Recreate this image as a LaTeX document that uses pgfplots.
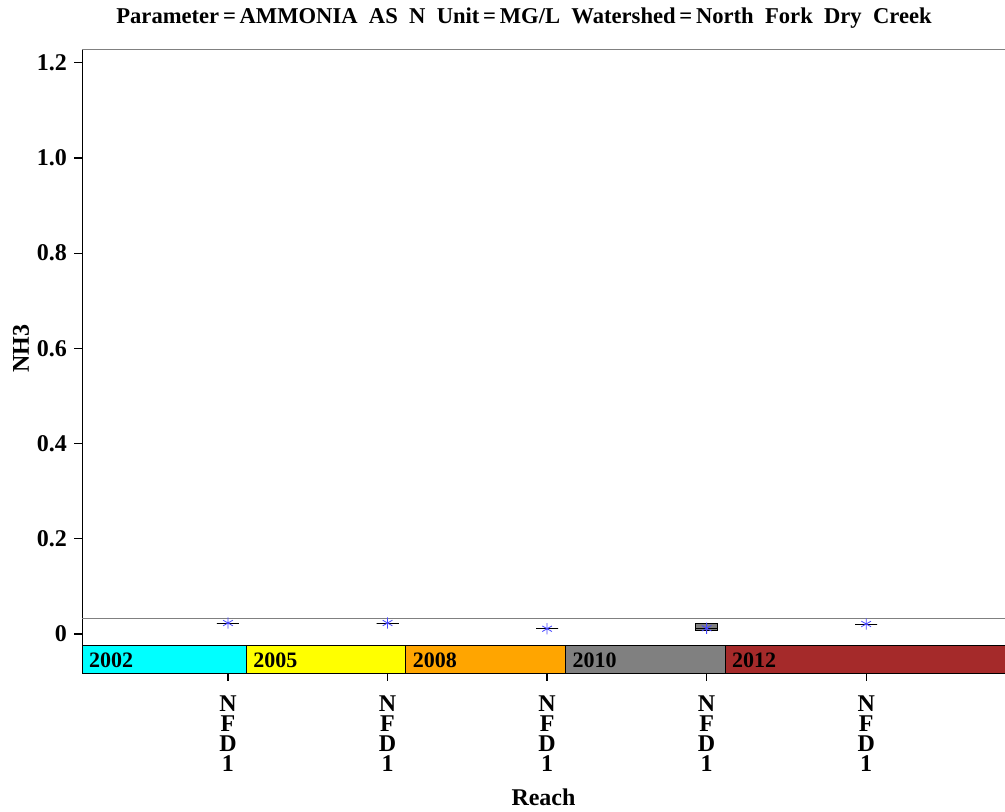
\documentclass[border=0pt]{standalone}
\usepackage{pgfplots}
\pgfplotsset{compat=1.18}
\usepgfplotslibrary{statistics}
\usepackage{fontspec}
\setmainfont{Liberation Serif}
\definecolor{meanblue}{RGB}{70,70,255}
\definecolor{band2002}{RGB}{0,255,255}
\definecolor{band2005}{RGB}{255,255,0}
\definecolor{band2008}{RGB}{255,165,0}
\definecolor{band2010}{RGB}{128,128,128}
\definecolor{band2012}{RGB}{165,42,42}
\begin{document}
\begin{tikzpicture}[x=0.5pt,y=0.5pt]
\useasboundingbox (0,0) rectangle (1005,812);
\node[font=\bfseries\fontsize{11.3}{14}\selectfont] at (524,794) {Parameter\,=\,AMMONIA\ \ AS\ \ N\ \ Unit\,=\,MG/L\ \ Watershed\,=\,North\ \ Fork\ \ Dry\ \ Creek};
\begin{axis}[
    at={(41pt,69.5pt)}, anchor=south west,
    width=461.5pt, height=312pt, scale only axis,
    xmin=0.085, xmax=5.87,
    ymin=-0.082, ymax=1.229,
    axis x line*=bottom, axis y line*=left,
    clip=false,
    ytick={0,0.2,0.4,0.6,0.8,1.0,1.2},
    yticklabels={0,0.2,0.4,0.6,0.8,1.0,1.2},
    xtick={1,2,3,4,5},
    xticklabels={N\\F\\D\\1,N\\F\\D\\1,N\\F\\D\\1,N\\F\\D\\1,N\\F\\D\\1},
    tick align=outside, major tick length=4pt,
    tick style={black, semithick},
    ticklabel style={font=\bfseries\fontsize{12}{10}\selectfont},
    xticklabel style={align=center, yshift=-4pt},
    ylabel={NH3}, xlabel={Reach},
    label style={font=\bfseries\fontsize{12}{14}\selectfont},
    ylabel style={at={(ticklabel cs:0.52)}, yshift=-3pt},
    xlabel style={yshift=-1.5pt},
    boxplot/draw direction=y,
]
% frame top
\addplot[gray, thin, forget plot] coordinates {(0.085,1.229) (5.87,1.229)};
% reference line
\addplot[gray, thin, forget plot] coordinates {(0.085,0.033) (5.87,0.033)};
% year bands
\addplot[fill=band2002, draw=black, thin] coordinates {(0.085,-0.082) (0.085,-0.023) (1.115,-0.023) (1.115,-0.082)} -- cycle;
\addplot[fill=band2005, draw=black, thin] coordinates {(1.115,-0.082) (1.115,-0.023) (2.115,-0.023) (2.115,-0.082)} -- cycle;
\addplot[fill=band2008, draw=black, thin] coordinates {(2.115,-0.082) (2.115,-0.023) (3.115,-0.023) (3.115,-0.082)} -- cycle;
\addplot[fill=band2010, draw=black, thin] coordinates {(3.115,-0.082) (3.115,-0.023) (4.115,-0.023) (4.115,-0.082)} -- cycle;
\addplot[fill=band2012, draw=black, thin] coordinates {(4.115,-0.082) (4.115,-0.023) (5.87,-0.023) (5.87,-0.082)} -- cycle;
\node[anchor=west, font=\bfseries\fontsize{11}{12}\selectfont] at (axis cs:0.085,-0.0545) {2002};
\node[anchor=west, font=\bfseries\fontsize{11}{12}\selectfont] at (axis cs:1.115,-0.0545) {2005};
\node[anchor=west, font=\bfseries\fontsize{11}{12}\selectfont] at (axis cs:2.115,-0.0545) {2008};
\node[anchor=west, font=\bfseries\fontsize{11}{12}\selectfont] at (axis cs:3.115,-0.0545) {2010};
\node[anchor=west, font=\bfseries\fontsize{11}{12}\selectfont] at (axis cs:4.115,-0.0545) {2012};
% boxes
\addplot[black, boxplot prepared={draw position=1, median=0.023, lower quartile=0.023, upper quartile=0.023, lower whisker=0.023, upper whisker=0.023, box extend=0.138}] coordinates {};
\addplot[black, boxplot prepared={draw position=2, median=0.023, lower quartile=0.023, upper quartile=0.023, lower whisker=0.023, upper whisker=0.023, box extend=0.138}] coordinates {};
\addplot[black, boxplot prepared={draw position=3, median=0.011, lower quartile=0.011, upper quartile=0.011, lower whisker=0.011, upper whisker=0.011, box extend=0.138}] coordinates {};
\addplot[black, fill=band2010, boxplot prepared={draw position=4, median=0.012, lower quartile=0.007, upper quartile=0.0217, lower whisker=0.007, upper whisker=0.0217, box extend=0.138}] coordinates {};
\addplot[black, boxplot prepared={draw position=5, median=0.021, lower quartile=0.021, upper quartile=0.021, lower whisker=0.021, upper whisker=0.021, box extend=0.138}] coordinates {};
% means
\addplot[only marks, mark=asterisk, mark size=2.8pt, meanblue] coordinates {(1,0.023) (2,0.023) (3,0.011) (4,0.012) (5,0.021)};
\end{axis}
\end{tikzpicture}
\end{document}
